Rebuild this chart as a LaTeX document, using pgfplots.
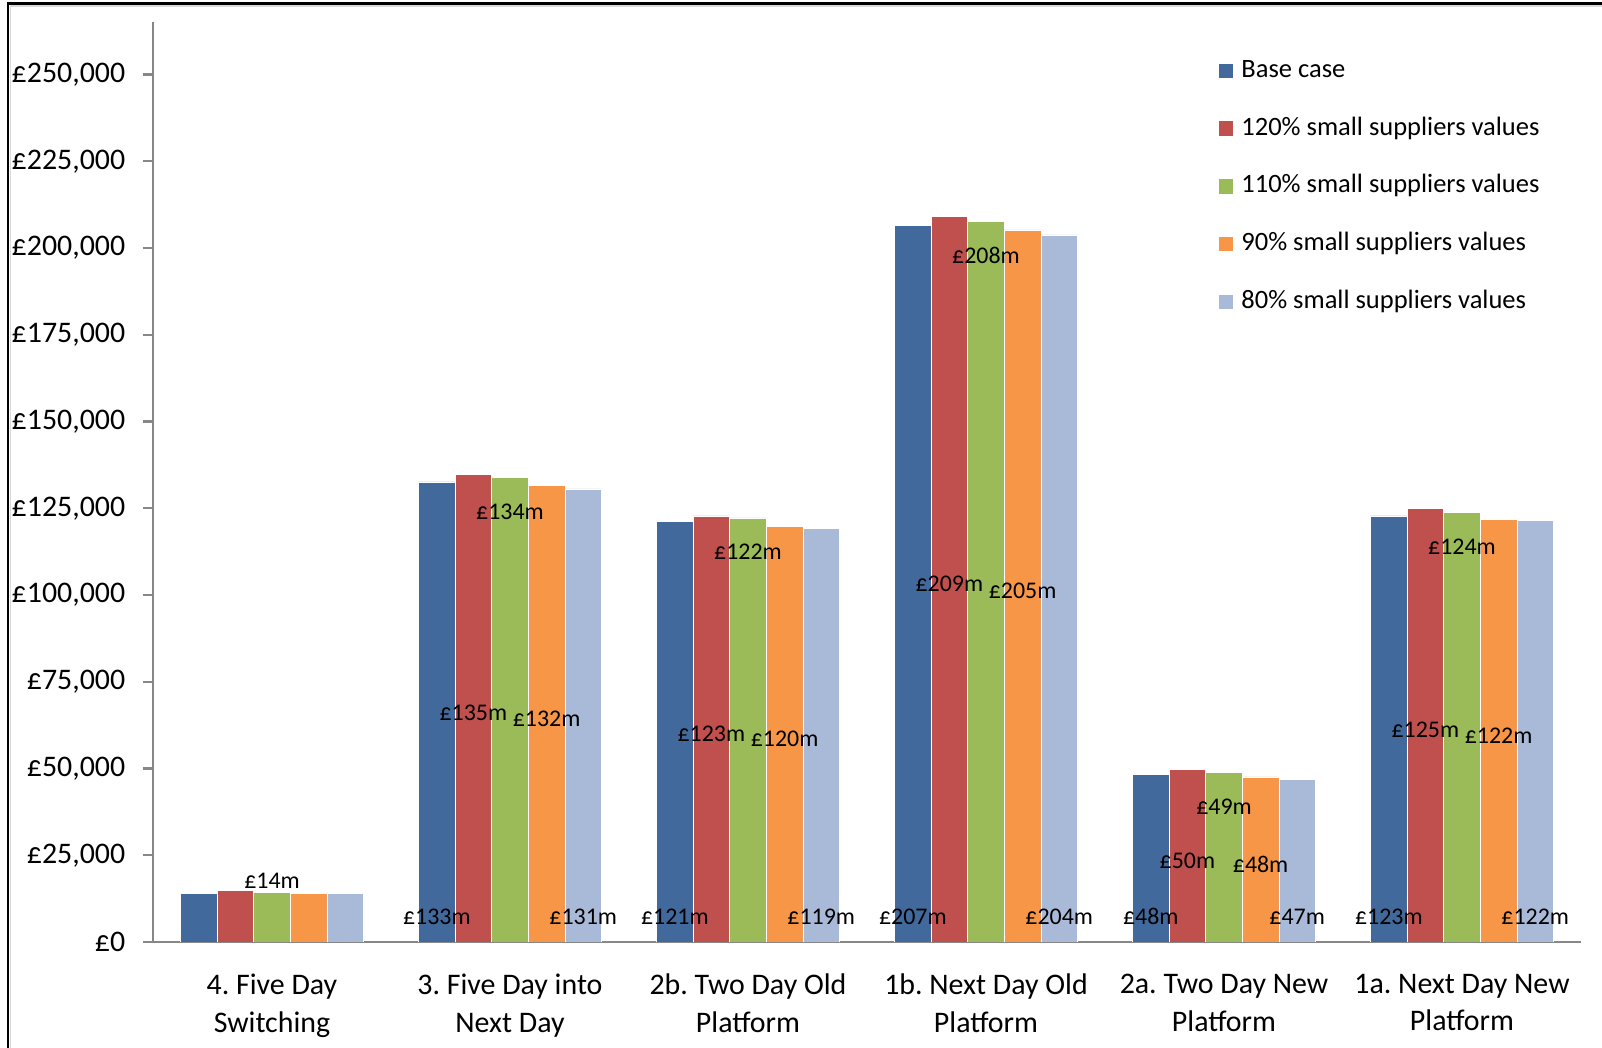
\documentclass[border=0pt]{standalone}
\usepackage{fontspec}
\setmainfont{Carlito}
\usepackage{pgfplots}
\usepackage{pgfplotstable}
\pgfplotsset{compat=1.18}
\frenchspacing
\definecolor{cBase}{HTML}{41699B}
\definecolor{cR}{HTML}{C0504D}
\definecolor{cG}{HTML}{9BBB59}
\definecolor{cO}{HTML}{F79646}
\definecolor{cL}{HTML}{A9B9D8}
\definecolor{axgray}{HTML}{878787}

\pgfplotstableread{
x base r120 r110 r90 r80
0 14.0 14.8 14.2 14.0 14.0
1 132.6 134.8 133.9 131.6 130.6
2 121.3 122.8 122.2 119.8 119.3
3 206.6 209.1 207.6 205.2 203.8
4 48.3 49.8 48.9 47.6 46.8
5 122.8 124.9 123.7 121.9 121.6
}\datatable

\pgfplotsset{
  ybar legend/.style={legend image code/.code={\fill[##1,draw=none] (0bp,-3.6bp) rectangle (7.2bp,3.6bp);}},
  lbl/.style={
    visualization depends on={rawy \as \rawy},
    nodes near coords={\ifdim\rawy pt<20pt\else £\pgfmathprintnumber[fixed,precision=0,assume math mode=true]{\rawy}m\fi},
    every node near coord/.append style={font=\fontsize{12}{14}\selectfont, inner sep=0pt, anchor=center, text=black}},
  lblbottom/.style={lbl, every node near coord/.append style={yshift={-\rawy*1.7349bp+12.75bp}}},
  lblmid/.style={lbl, every node near coord/.append style={yshift={-\rawy*0.86745bp-2.5bp}}},
  lbltop/.style={
    visualization depends on={rawy \as \rawy},
    nodes near coords={£\pgfmathprintnumber[fixed,precision=0,assume math mode=true]{\rawy}m},
    every node near coord/.append style={font=\fontsize{12}{14}\selectfont, inner sep=0pt, anchor=center, text=black,
      yshift={ifthenelse(\rawy<20,6.1,-17)*1bp}}},
}

\begin{document}
\begin{tikzpicture}
\path[use as bounding box] (0,0) rectangle (801bp,524bp);
\draw[black, line width=1.2bp] (4bp,-1bp) -- (4bp,522.2bp) -- (802bp,522.2bp);
\draw[black!15, line width=0.8bp] (5.3bp,-1bp) -- (5.3bp,520.9bp) -- (802bp,520.9bp);
\begin{axis}[
  at={(76.5bp,53bp)}, anchor=south west,
  scale only axis, width=714bp, height=459.75bp,
  xmin=-0.5, xmax=5.5, ymin=0, ymax=265,
  axis x line=bottom, axis y line=left,
  axis line style={draw=axgray, line width=1.1bp, -},
  ybar=0pt, bar width=18.3bp,
  ytick={0,25,...,250},
  yticklabels={{£0},{£25,000},{£50,000},{£75,000},{£100,000},{£125,000},{£150,000},{£175,000},{£200,000},{£225,000},{£250,000}},
  yticklabel style={font=\fontsize{15}{17}\selectfont, anchor=east, inner sep=0pt, xshift=-8.7bp},
  ytick style={draw=axgray, line width=1.1bp},
  tick align=outside, major tick length=5bp,
  xtick={0,...,5},
  xticklabels={{4. Five Day\\Switching},{3. Five Day into\\Next Day},{2b. Two Day Old\\Platform},{1b. Next Day Old\\Platform},{2a. Two Day New\\Platform},{1a. Next Day New\\Platform}},
  xticklabel style={font=\fontsize{15}{19}\selectfont\frenchspacing, align=center, anchor=north, inner sep=0pt, yshift=-10.7bp},
  xtick style={draw=none},
  extra x ticks={-0.5,0.5,1.5,2.5,3.5,4.5,5.5},
  extra x tick labels={},
  extra x tick style={tick style={draw=axgray, line width=1.1bp}},
  legend style={draw=none, fill=none, at={(0.7465,0.961)}, anchor=north west, inner sep=0pt, outer sep=0pt,
    font=\fontsize{13.3}{15}\selectfont, row sep=16.4bp,
    /tikz/every odd column/.append style={column sep=4bp},
    nodes={inner sep=0pt, text height=9.5bp, text depth=3bp}},
  legend cell align=left,
  legend entries={Base case, 120\% small suppliers values, 110\% small suppliers values, 90\% small suppliers values, 80\% small suppliers values},
]
\addplot[fill=cBase, draw=white, line width=0.3bp, lblbottom] table[x=x,y=base] {\datatable};
\addplot[fill=cR, draw=white, line width=0.3bp, lblmid] table[x=x,y=r120] {\datatable};
\addplot[fill=cG, draw=white, line width=0.3bp, lbltop] table[x=x,y=r110] {\datatable};
\addplot[fill=cO, draw=white, line width=0.3bp, lblmid] table[x=x,y=r90] {\datatable};
\addplot[fill=cL, draw=white, line width=0.3bp, lblbottom] table[x=x,y=r80] {\datatable};
\end{axis}
\end{tikzpicture}
\end{document}
